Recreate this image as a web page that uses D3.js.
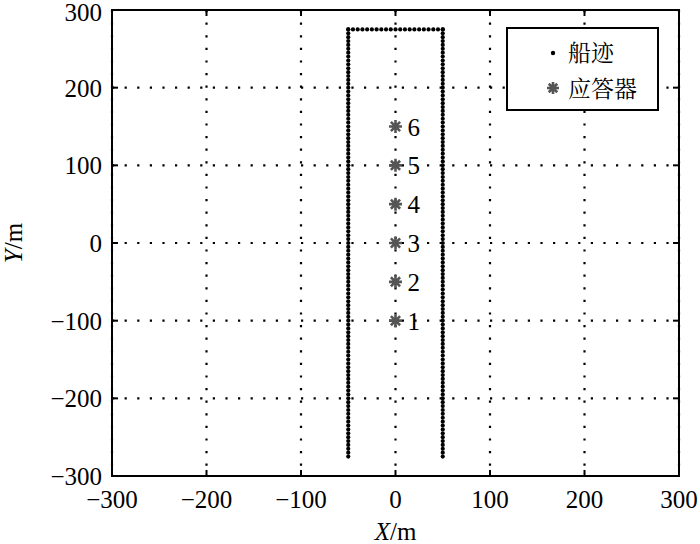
<html>
<head>
<meta charset="utf-8"/>
<title>船迹与应答器</title>
<script type="text/javascript" src="https://cdn.jsdelivr.net/npm/d3@7"></script>
<style>
body { margin: 0; background: #fff; }
</style>
<script type="text/javascript">

// axis ticks (m)
var xTicks = [-300, -200, -100, 0, 100, 200, 300];
var yTicks = [-300, -200, -100, 0, 100, 200, 300];

// ship track: two vertical legs and the top crossing leg
var legLeftX = -50;
var legRightX = 50;
var legTopY = 275;
var legY = [-275,-270,-265,-260,-255,-250,-245,-240,-235,-230,-225,-220,-215,-210,-205,-200,-195,-190,-185,-180,
  -175,-170,-165,-160,-155,-150,-145,-140,-135,-130,-125,-120,-115,-110,-105,-100,-95,-90,-85,-80,
  -75,-70,-65,-60,-55,-50,-45,-40,-35,-30,-25,-20,-15,-10,-5,0,5,10,15,20,25,30,35,40,45,50,55,60,
  65,70,75,80,85,90,95,100,105,110,115,120,125,130,135,140,145,150,155,160,165,170,175,180,185,190,
  195,200,205,210,215,220,225,230,235,240,245,250,255,260,265,270,275];
var topX = [-50,-45,-40,-35,-30,-25,-20,-15,-10,-5,0,5,10,15,20,25,30,35,40,45,50];

// transponders
var tpX = [0, 0, 0, 0, 0, 0];
var tpY = [-100, -50, 0, 50, 100, 150];
var tpName = ["1", "2", "3", "4", "5", "6"];

// legend
var legendNames = ["船迹", "应答器"];

var SERIF = "'Liberation Serif', 'Times New Roman', Times, 'Noto Serif CJK SC', 'Noto Sans CJK SC', serif";

//8-spoke asterisk marker path
function asterisk(r) {
  var d = "";
  for (var i = 0; i < 4; i++) {
    var a = i * Math.PI / 4;
    var dx = r * Math.cos(a), dy = r * Math.sin(a);
    d += "M" + (-dx) + "," + (-dy) + "L" + dx + "," + dy;
  }
  return d;
}

window.onload = function() {
  var W = 700, H = 544;
  var left = 112, right = 679, top = 10, bottom = 476;

  var svg = d3.select("#chart").append("svg")
    .attr("width", W).attr("height", H)
    .style("font-family", SERIF);

  var x = d3.scaleLinear().domain([-300, 300]).range([left, right]);
  var y = d3.scaleLinear().domain([-300, 300]).range([bottom, top]);

  var fmt = d3.format("");

  //dotted grid
  var grid = svg.append("g");
  xTicks.forEach(function(t) {
    grid.append("line")
      .attr("x1", x(t)).attr("x2", x(t)).attr("y1", top).attr("y2", bottom)
      .attr("stroke", "#000").attr("stroke-width", 2.2)
      .attr("stroke-dasharray", "2.2,10.4");
  });
  yTicks.forEach(function(t) {
    grid.append("line")
      .attr("x1", left).attr("x2", right).attr("y1", y(t)).attr("y2", y(t))
      .attr("stroke", "#000").attr("stroke-width", 2.2)
      .attr("stroke-dasharray", "2.2,10.4");
  });

  //ship track
  var track = [];
  legY.forEach(function(v) { track.push([legLeftX, v]); });
  topX.forEach(function(v) { track.push([v, legTopY]); });
  legY.forEach(function(v) { track.push([legRightX, v]); });
  svg.append("g").selectAll("circle").data(track).enter().append("circle")
    .attr("cx", function(d) { return x(d[0]); })
    .attr("cy", function(d) { return y(d[1]); })
    .attr("r", 2.1)
    .attr("fill", "#000");

  //transponders
  var tp = svg.append("g");
  tpY.forEach(function(v, i) {
    tp.append("path")
      .attr("transform", "translate(" + x(tpX[i]) + "," + y(v) + ")")
      .attr("d", asterisk(6.5))
      .attr("stroke", "#555").attr("stroke-width", 2.6);
    tp.append("text")
      .attr("x", x(tpX[i]) + 12)
      .attr("y", y(v) + 9)
      .attr("font-size", 25)
      .text(tpName[i]);
  });

  //frame + inward ticks
  svg.append("rect")
    .attr("x", left).attr("y", top)
    .attr("width", right - left).attr("height", bottom - top)
    .attr("fill", "none").attr("stroke", "#000").attr("stroke-width", 2);

  var tk = svg.append("g").attr("stroke", "#000").attr("stroke-width", 2);
  xTicks.forEach(function(t) {
    tk.append("line").attr("x1", x(t)).attr("x2", x(t)).attr("y1", bottom).attr("y2", bottom - 6);
    tk.append("line").attr("x1", x(t)).attr("x2", x(t)).attr("y1", top).attr("y2", top + 6);
  });
  yTicks.forEach(function(t) {
    tk.append("line").attr("x1", left).attr("x2", left + 6).attr("y1", y(t)).attr("y2", y(t));
    tk.append("line").attr("x1", right).attr("x2", right - 6).attr("y1", y(t)).attr("y2", y(t));
  });

  //tick labels
  xTicks.forEach(function(t) {
    svg.append("text")
      .attr("x", x(t)).attr("y", bottom + 32)
      .attr("text-anchor", "middle")
      .attr("font-size", 25)
      .text(fmt(t));
  });
  yTicks.forEach(function(t) {
    svg.append("text")
      .attr("x", left - 10).attr("y", Math.max(y(t) + 9, 21))
      .attr("text-anchor", "end")
      .attr("font-size", 25)
      .text(fmt(t));
  });

  //axis titles
  var xt = svg.append("text")
    .attr("x", x(0)).attr("y", 540)
    .attr("text-anchor", "middle")
    .attr("font-size", 25);
  xt.append("tspan").attr("font-style", "italic").text("X");
  xt.append("tspan").text("/m");

  var yt = svg.append("text")
    .attr("transform", "translate(22," + y(0) + ") rotate(-90)")
    .attr("text-anchor", "middle")
    .attr("font-size", 25);
  yt.append("tspan").attr("font-style", "italic").text("Y");
  yt.append("tspan").text("/m");

  //legend
  var lg = svg.append("g");
  lg.append("rect")
    .attr("x", 507).attr("y", 28).attr("width", 151).attr("height", 82)
    .attr("fill", "#fff").attr("stroke", "#000").attr("stroke-width", 2);
  lg.append("circle").attr("cx", 553).attr("cy", 53).attr("r", 2.2).attr("fill", "#000");
  lg.append("path")
    .attr("transform", "translate(553,88)")
    .attr("d", asterisk(6))
    .attr("stroke", "#555").attr("stroke-width", 2.6);
  legendNames.forEach(function(n, i) {
    lg.append("text")
      .attr("x", 568).attr("y", 61 + i * 36)
      .attr("font-size", 23)
      .text(n);
  });
};

</script>
</head>
<body>
  <div id="chart"></div>
</body>
</html>
